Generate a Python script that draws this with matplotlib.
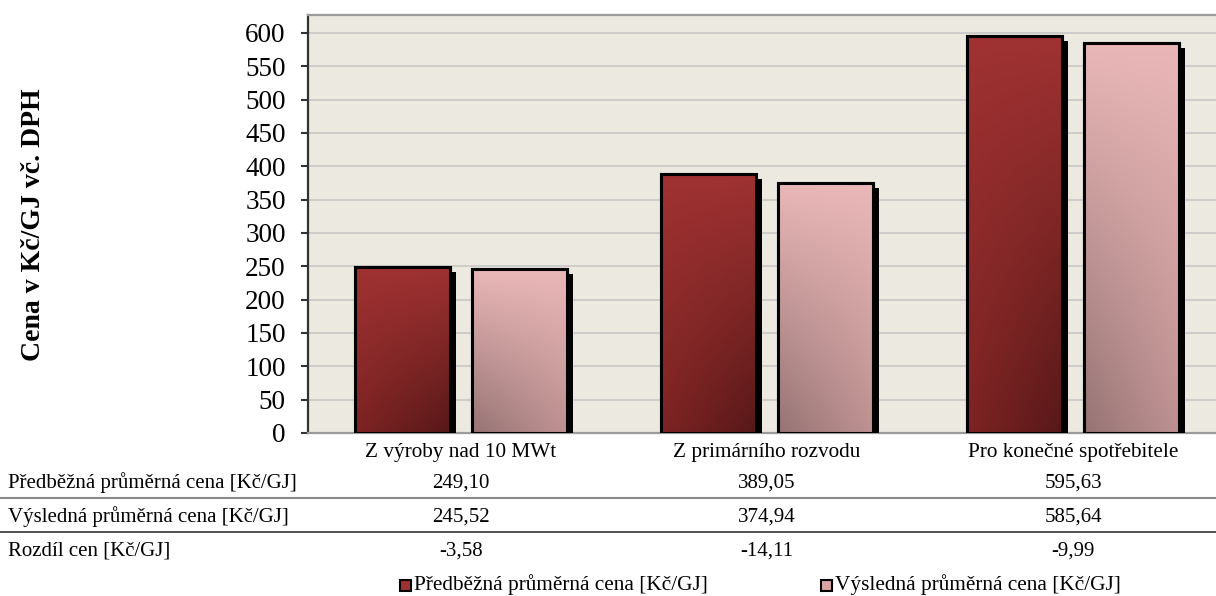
import numpy as np
import matplotlib
matplotlib.use("Agg")
import matplotlib.pyplot as plt
import matplotlib.patheffects as pe
from matplotlib.patches import Rectangle
from matplotlib.lines import Line2D
from matplotlib.transforms import blended_transform_factory

plt.rcParams['font.family'] = ['Liberation Serif', 'DejaVu Serif']

categories = ['Z výroby nad 10 MWt', 'Z primárního rozvodu', 'Pro konečné spotřebitele']
series_names = ['Předběžná průměrná cena [Kč/GJ]', 'Výsledná průměrná cena [Kč/GJ]']
predbezna = [249.10, 389.05, 595.63]
vysledna = [245.52, 374.94, 585.64]
rozdil = [-3.58, -14.11, -9.99]
yticks = list(range(0, 601, 50))

W, H = 1216, 596


def fmt(v):
    return f"{v:.2f}".replace('.', ',')


def gradient(top, bot_left, bot_right, n=120, m=40):
    t = np.linspace(0, 1, n)[:, None, None]
    s = np.linspace(0, 1, m)[None, :, None]
    top = np.array(top)[None, None, :] / 255
    bl = np.array(bot_left)[None, None, :] / 255
    br = np.array(bot_right)[None, None, :] / 255
    bottom = bl * (1 - s) + br * s
    return np.clip(top * t + bottom * (1 - t), 0, 1)


grads = [
    gradient((160, 50, 50), (125, 35, 35), (88, 24, 24)),
    gradient((233, 183, 183), (150, 115, 115), (190, 145, 145)),
]
legend_colors = ['#9e3030', '#d9a3a3']

fig = plt.figure(figsize=(W / 100, H / 100), dpi=100)
ax = fig.add_axes([308 / W, (H - 433) / H, 918 / W, 418 / H])
ax.set_facecolor('#eceae0')

x = np.arange(len(categories))
width = 0.31
offset = 0.191
shadow = [pe.SimplePatchShadow(offset=(4.3, -3.6), shadow_rgbFace='black', alpha=1.0), pe.Normal()]

for i, vals in enumerate([predbezna, vysledna]):
    pos = x + (-offset if i == 0 else offset)
    bars = ax.bar(pos, vals, width, facecolor='none', edgecolor='black', linewidth=2.2, zorder=3)
    for b in bars:
        b.set_path_effects(shadow)
        x0, x1 = b.get_x(), b.get_x() + b.get_width()
        im = ax.imshow(grads[i], extent=(x0, x1, 0, b.get_height()), origin='lower',
                       aspect='auto', zorder=3.5, interpolation='bilinear')
        clip = Rectangle((x0, 0), x1 - x0, b.get_height(), transform=ax.transData)
        im.set_clip_path(clip)
        ax.add_patch(Rectangle((x0, 0), x1 - x0, b.get_height(), facecolor='none',
                               edgecolor='black', linewidth=2.2, zorder=4))

ax.set_xlim(-0.5, 2.5)
ax.set_ylim(0, 627)
ax.set_yticks(yticks)
ax.set_yticklabels([str(t) for t in yticks], fontsize=19.5)
ax.set_xticks(x)
ax.set_xticklabels(categories, fontsize=15.3)
ax.tick_params(axis='x', length=0, pad=7)
ax.tick_params(axis='y', length=5, width=1.5, color='#333333', pad=11)
ax.yaxis.grid(True, color='#c4c4c4', linewidth=1.1)
ax.set_axisbelow(True)
ax.spines['left'].set_color('#333333')
ax.spines['left'].set_linewidth(1.6)
for s in ['top', 'bottom']:
    ax.spines[s].set_color('#9a9a9a')
    ax.spines[s].set_linewidth(1.6)
ax.spines['right'].set_visible(False)

fig.text(34 / W, 1 - 225 / H, 'Cena v Kč/GJ vč. DPH', rotation=90, fontsize=20,
         fontweight='bold', ha='center', va='center')

# data table below the chart
rows = [series_names[0], series_names[1], 'Rozdíl cen [Kč/GJ]']
row_vals = [predbezna, vysledna, rozdil]
row_y = [483, 517, 551]
tr = blended_transform_factory(ax.transData, fig.transFigure)
for label, vals, yy in zip(rows, row_vals, row_y):
    fig.text(8 / W, 1 - yy / H, label, fontsize=15, ha='left', va='center')
    for xi, v in zip(x, vals):
        ax.text(xi, 1 - yy / H, fmt(v), transform=tr, fontsize=15, ha='center',
                va='center', clip_on=False)
fig.add_artist(Line2D([0, 1], [1 - 498 / H] * 2, color='#8a8a8a', linewidth=1.5))
fig.add_artist(Line2D([0, 1], [1 - 532 / H] * 2, color='#333333', linewidth=1.2))

# legend
for name, col, mx in zip(series_names, legend_colors, [400, 821]):
    fig.add_artist(Rectangle((mx / W, 1 - 591 / H), 11 / W, 11 / H, facecolor=col,
                             edgecolor='black', linewidth=1.5, transform=fig.transFigure))
    fig.text((mx + 14) / W, 1 - 585 / H, name, fontsize=15.3, ha='left', va='center')

fig.savefig('out.png', dpi=100)
